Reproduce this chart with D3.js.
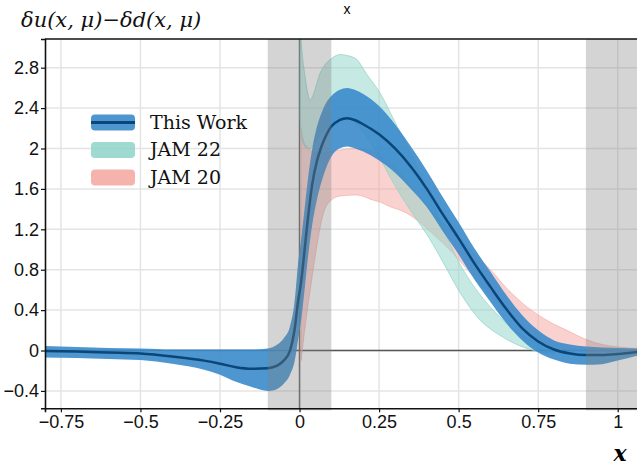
<!DOCTYPE html>
<html>
<head>
<meta charset="utf-8">
<script src="https://cdn.jsdelivr.net/npm/d3@7"></script>
<style>
body { margin: 0; background: #fff; }
</style>
</head>
<body>
<div id="chart"></div>
<script>
var width = 637,
    height = 465;

var xTicks = [-0.75, -0.5, -0.25, 0, 0.25, 0.5, 0.75, 1];
var yTicks = [-0.4, 0, 0.4, 0.8, 1.2, 1.6, 2, 2.4, 2.8];

// this work: x, lower edge, central line, upper edge
var workX    = [-0.8, -0.7, -0.6, -0.5, -0.4, -0.3, -0.25, -0.2, -0.15, -0.1, -0.07, -0.05, -0.03, -0.015, -0.005, 0.005, 0.015, 0.025, 0.04, 0.055, 0.07, 0.085, 0.1, 0.125, 0.15, 0.175, 0.2, 0.25, 0.3, 0.35, 0.4, 0.45, 0.5, 0.55, 0.6, 0.65, 0.7, 0.75, 0.8, 0.85, 0.9, 0.95, 1.0, 1.07];
var workLow  = [-0.07, -0.075, -0.085, -0.095, -0.13, -0.19, -0.24, -0.31, -0.36, -0.4, -0.38, -0.33, -0.24, -0.1, 0.1, 0.3, 0.58, 0.88, 1.25, 1.5, 1.68, 1.82, 1.92, 2.0, 2.02, 2.0, 1.97, 1.88, 1.76, 1.6, 1.42, 1.18, 0.95, 0.7, 0.48, 0.27, 0.1, -0.02, -0.09, -0.13, -0.14, -0.135, -0.1, -0.045];
var workMid  = [-0.005, -0.01, -0.02, -0.03, -0.06, -0.1, -0.13, -0.165, -0.18, -0.175, -0.15, -0.1, 0.0, 0.22, 0.48, 0.68, 0.97, 1.27, 1.65, 1.88, 2.03, 2.14, 2.22, 2.28, 2.3, 2.28, 2.24, 2.14, 2.0, 1.82, 1.6, 1.35, 1.11, 0.86, 0.63, 0.41, 0.22, 0.09, 0.01, -0.03, -0.045, -0.045, -0.035, -0.01];
var workHigh = [0.045, 0.035, 0.025, 0.02, 0.01, 0.01, 0.01, 0.01, 0.01, 0.02, 0.06, 0.12, 0.24, 0.5, 0.85, 1.1, 1.38, 1.66, 2.0, 2.22, 2.36, 2.46, 2.52, 2.58, 2.6, 2.58, 2.54, 2.42, 2.24, 2.02, 1.78, 1.52, 1.27, 1.01, 0.78, 0.55, 0.35, 0.2, 0.1, 0.06, 0.04, 0.03, 0.025, 0.02];

// JAM 22
var jam22X    = [0.002, 0.008, 0.017, 0.025, 0.033, 0.045, 0.064, 0.08, 0.096, 0.127, 0.15, 0.18, 0.21, 0.253, 0.3, 0.35, 0.4, 0.45, 0.505, 0.568, 0.63, 0.69, 0.75, 0.8];
var jam22Low  = [2.3, 2.1, 2.02, 2.0, 2.0, 2.04, 2.12, 2.18, 2.24, 2.3, 2.3, 2.24, 2.12, 1.9, 1.63, 1.38, 1.15, 0.88, 0.57, 0.3, 0.15, 0.05, -0.01, -0.03];
var jam22High = [3.2, 2.95, 2.72, 2.56, 2.48, 2.55, 2.74, 2.83, 2.88, 2.93, 2.92, 2.88, 2.74, 2.55, 2.26, 1.95, 1.6, 1.22, 0.85, 0.55, 0.33, 0.17, 0.07, 0.02];

// JAM 20
var jam20X    = [0.005, 0.012, 0.023, 0.038, 0.054, 0.075, 0.1, 0.127, 0.18, 0.23, 0.253, 0.28, 0.337, 0.37, 0.42, 0.48, 0.55, 0.6, 0.65, 0.7, 0.756, 0.8, 0.84, 0.9, 0.95, 1.0, 1.07];
var jam20Low  = [-0.1, 0.1, 0.37, 0.7, 1.03, 1.36, 1.49, 1.53, 1.54, 1.49, 1.47, 1.43, 1.36, 1.29, 1.15, 0.97, 0.72, 0.55, 0.38, 0.22, 0.1, 0.04, 0.01, -0.01, -0.01, 0.0, 0.0];
var jam20High = [2.2, 2.08, 2.02, 1.98, 1.96, 1.96, 1.97, 1.985, 2.0, 1.97, 1.93, 1.87, 1.68, 1.55, 1.36, 1.18, 0.95, 0.8, 0.62, 0.47, 0.34, 0.26, 0.2, 0.11, 0.06, 0.035, 0.02];

var cutRegions = [[-0.1, 0.1], [0.9, 1.07]];
var legendLabels = ["This Work", "JAM 22", "JAM 20"];

var blue = "#3a8bcb",
    teal = "#8dd3c7",
    pink = "#f4a6a0",
    navy = "#0a4677";

var x = d3.scaleLinear().domain([-0.8, 1.07]).range([45, 640]);
var y = d3.scaleLinear().domain([-0.572, 3.084]).range([408.3, 39]);

var svg = d3.select("#chart").append("svg")
    .attr("width", width)
    .attr("height", height)
    .style("font-family", "'Liberation Sans', Arial, sans-serif");

svg.append("clipPath").attr("id", "plot")
  .append("rect")
    .attr("x", x(-0.8)).attr("y", y(3.084))
    .attr("width", x(1.07) - x(-0.8)).attr("height", y(-0.572) - y(3.084));

function rows(xs, lo, hi, mid) {
  return xs.map(function(d, i) {
    return {x: d, lo: lo[i], hi: hi[i], mid: mid ? mid[i] : null};
  });
}

var band = d3.area()
    .x(function(d) { return x(d.x); })
    .y0(function(d) { return y(d.lo); })
    .y1(function(d) { return y(d.hi); })
    .curve(d3.curveMonotoneX);

var line = d3.line()
    .x(function(d) { return x(d.x); })
    .y(function(d) { return y(d.mid); })
    .curve(d3.curveMonotoneX);

// grid
var grid = svg.append("g").attr("stroke", "#e4e4e4").attr("stroke-width", 1.5);
grid.selectAll(".gx").data(xTicks).enter().append("line")
    .attr("x1", function(d) { return x(d); }).attr("x2", function(d) { return x(d); })
    .attr("y1", y(3.084)).attr("y2", y(-0.572));
grid.selectAll(".gy").data(yTicks).enter().append("line")
    .attr("x1", x(-0.8)).attr("x2", x(1.07))
    .attr("y1", function(d) { return y(d); }).attr("y2", function(d) { return y(d); });

var g = svg.append("g").attr("clip-path", "url(#plot)");

// zero lines
g.append("line")
    .attr("x1", x(-0.8)).attr("x2", x(1.07))
    .attr("y1", y(0)).attr("y2", y(0))
    .attr("stroke", "#555").attr("stroke-width", 1.5);
g.append("line")
    .attr("x1", x(0)).attr("x2", x(0))
    .attr("y1", y(3.084)).attr("y2", y(-0.572))
    .attr("stroke", "#666").attr("stroke-width", 1.5);

g.append("path")
    .datum(rows(jam20X, jam20Low, jam20High))
    .attr("d", band)
    .attr("fill", pink).attr("fill-opacity", 0.5)
    .attr("stroke", pink).attr("stroke-opacity", 0.6).attr("stroke-width", 1);

g.append("path")
    .datum(rows(jam22X, jam22Low, jam22High))
    .attr("d", band)
    .attr("fill", teal).attr("fill-opacity", 0.5)
    .attr("stroke", teal).attr("stroke-opacity", 0.7).attr("stroke-width", 1);

var work = rows(workX, workLow, workHigh, workMid);
g.append("path")
    .datum(work)
    .attr("d", band)
    .attr("fill", blue).attr("fill-opacity", 0.9);

g.append("path")
    .datum(work)
    .attr("d", line)
    .attr("fill", "none")
    .attr("stroke", navy).attr("stroke-width", 2.5);

// excluded regions
svg.selectAll(".cut").data(cutRegions).enter().append("rect")
    .attr("x", function(d) { return x(d[0]); })
    .attr("width", function(d) { return x(d[1]) - x(d[0]); })
    .attr("y", y(3.084))
    .attr("height", y(-0.572) - y(3.084) + 2)
    .attr("fill", "#808080").attr("fill-opacity", 0.34);

// axes
var fmt = d3.format("~g");
var xAxis = svg.append("g")
    .attr("transform", "translate(0," + y(-0.572) + ")")
    .call(d3.axisBottom(x).tickValues(xTicks).tickSize(4).tickPadding(3).tickFormat(fmt));
var yAxis = svg.append("g")
    .attr("transform", "translate(" + x(-0.8) + ",0)")
    .call(d3.axisLeft(y).tickValues(yTicks).tickSize(4).tickPadding(2).tickFormat(fmt));

[xAxis, yAxis].forEach(function(a) {
  a.select(".domain").attr("stroke", "#111").attr("stroke-width", 1.6);
  a.selectAll(".tick line").attr("stroke", "#111").attr("stroke-width", 1.2);
  a.selectAll(".tick text").attr("fill", "#111").style("font-size", "18px")
    .style("font-family", "'Liberation Sans', Arial, sans-serif");
});

svg.append("line")
    .attr("x1", x(-0.8)).attr("x2", x(1.07))
    .attr("y1", y(3.084)).attr("y2", y(3.084))
    .attr("stroke", "#111").attr("stroke-width", 1.6);

// titles
svg.append("text")
    .attr("x", 21).attr("y", 27)
    .style("font-family", "'DejaVu Serif', serif")
    .style("font-style", "italic")
    .style("font-size", "21px")
    .attr("fill", "#111")
    .text("δu(x, μ)−δd(x, μ)");

svg.append("text")
    .attr("x", 347).attr("y", 14)
    .attr("text-anchor", "middle")
    .style("font-size", "14px")
    .text("x");

svg.append("text")
    .attr("x", 620).attr("y", 461)
    .attr("text-anchor", "middle")
    .style("font-family", "'DejaVu Serif', serif")
    .style("font-style", "italic")
    .style("font-weight", "bold")
    .style("font-size", "22px")
    .text("x");

// legend
var legendFill = [blue, teal, pink];
var legend = svg.selectAll(".legend").data(legendLabels).enter().append("g")
    .attr("transform", function(d, i) { return "translate(91," + (122.5 + i * 27.5) + ")"; });

legend.append("rect")
    .attr("x", 0).attr("y", -8)
    .attr("width", 44).attr("height", 16)
    .attr("rx", 4)
    .attr("fill", function(d, i) { return legendFill[i]; })
    .attr("fill-opacity", function(d, i) { return i == 0 ? 0.9 : 0.85; });

legend.filter(function(d, i) { return i == 0; }).append("line")
    .attr("x1", 0).attr("x2", 44)
    .attr("stroke", navy).attr("stroke-width", 3);

legend.append("text")
    .attr("x", 59).attr("y", 6)
    .style("font-family", "'DejaVu Serif', serif")
    .style("font-size", "19px")
    .attr("fill", "#111")
    .text(function(d) { return d; });
</script>
</body>
</html>
